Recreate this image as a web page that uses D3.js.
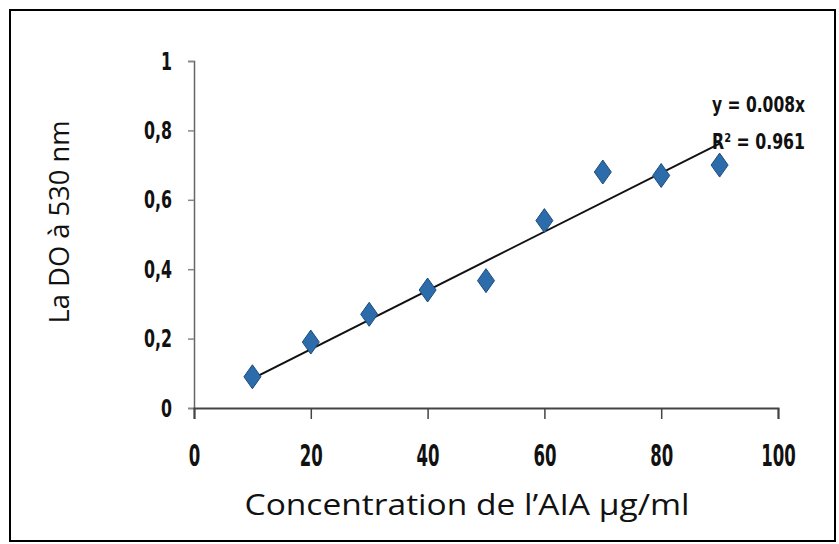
<!DOCTYPE html>
<html>
<head>
<meta charset="utf-8">
<script src="https://cdn.jsdelivr.net/npm/d3@7"></script>
<style>
  body { margin: 0; background: #fff; }
  svg { display: block; }
  .narrow { font-family: "DejaVu Sans Condensed", "DejaVu Sans", sans-serif; font-stretch: condensed; fill: #111; }
</style>
</head>
<body>
<div id="chart"></div>
<script>
// concentration (µg/ml) and absorbance
const conc = [10, 20, 30, 40, 50, 60, 70, 80, 90];
const absorb = [0.09, 0.19, 0.27, 0.34, 0.367, 0.54, 0.68, 0.67, 0.70];
const xTicks = [0, 20, 40, 60, 80, 100];
const yTicks = [0, 0.2, 0.4, 0.6, 0.8, 1];
const eqLines = ["y = 0.008x", "R² = 0.961"];

const W = 839, H = 544;
const svg = d3.select("#chart").append("svg").attr("width", W).attr("height", H);

// outer frame
svg.append("rect").attr("x", 10).attr("y", 10).attr("width", 825).attr("height", 531)
  .attr("fill", "none").attr("stroke", "#000").attr("stroke-width", 2);

const x = d3.scaleLinear().domain([0, 100]).range([194, 778]);
const y = d3.scaleLinear().domain([0, 1]).range([408, 61]);

// y axis
const yAxis = svg.append("g").attr("transform", "translate(194,0)")
  .call(d3.axisLeft(y).tickValues(yTicks).tickSize(6).tickPadding(16)
    .tickFormat(d => d === 0 || d === 1 ? d : d3.format(".1f")(d).replace(".", ",")));
yAxis.select(".domain").attr("stroke", "#666").attr("stroke-width", 1.5);
yAxis.selectAll(".tick line").attr("stroke", "#888").attr("stroke-width", 1.5);
yAxis.selectAll(".tick text").attr("class", "narrow").attr("font-size", 25).attr("font-weight", 600)
  .attr("textLength", d => String(d).length === 1 ? 11 : 28).attr("lengthAdjust", "spacingAndGlyphs");

// x axis
const xAxis = svg.append("g").attr("transform", "translate(0,408)")
  .call(d3.axisBottom(x).tickValues(xTicks).tickSize(11).tickSizeOuter(11).tickPadding(25));
xAxis.select(".domain").attr("stroke", "#444").attr("stroke-width", 2);
xAxis.selectAll(".tick line").attr("stroke", "#444").attr("stroke-width", 1.5);
xAxis.selectAll(".tick text").attr("class", "narrow").attr("font-size", 31).attr("font-weight", 600)
  .attr("textLength", d => String(d).length * 11.5).attr("lengthAdjust", "spacingAndGlyphs");

// linear fit through origin
const slope = d3.sum(conc, (c, i) => c * absorb[i]) / d3.sum(conc, c => c * c);
const ext = d3.extent(conc);
svg.append("line")
  .attr("x1", x(ext[0])).attr("y1", y(slope * ext[0]))
  .attr("x2", x(ext[1])).attr("y2", y(slope * ext[1]))
  .attr("stroke", "#111").attr("stroke-width", 2);

// diamonds
const diamond = "M0,-12L8.5,0L0,12L-8.5,0Z";
svg.append("g").selectAll("path").data(conc).enter().append("path")
  .attr("d", diamond)
  .attr("transform", (c, i) => "translate(" + x(c) + "," + y(absorb[i]) + ")")
  .attr("fill", "#2d6cab").attr("stroke", "#1d4c7c").attr("stroke-width", 1);

// equation
svg.append("g").selectAll("text").data(eqLines).enter().append("text")
  .attr("class", "narrow")
  .attr("x", 712).attr("y", (d, i) => 112 + i * 37)
  .attr("font-size", 21).attr("font-weight", 600)
  .attr("textLength", 93).attr("lengthAdjust", "spacingAndGlyphs")
  .text(d => d);

// axis titles
svg.append("text").attr("x", 467).attr("y", 515).attr("text-anchor", "middle")
  .attr("font-family", "Open Sans, sans-serif").attr("font-size", 29).attr("fill", "#111")
  .attr("textLength", 445).attr("lengthAdjust", "spacingAndGlyphs")
  .text("Concentration de l’AIA µg/ml");

svg.append("text").attr("transform", "translate(69,222) rotate(-90)").attr("text-anchor", "middle")
  .attr("font-family", "Open Sans, sans-serif").attr("font-size", 27).attr("fill", "#111")
  .attr("textLength", 203).attr("lengthAdjust", "spacingAndGlyphs")
  .text("La DO à 530 nm");
</script>
</body>
</html>
